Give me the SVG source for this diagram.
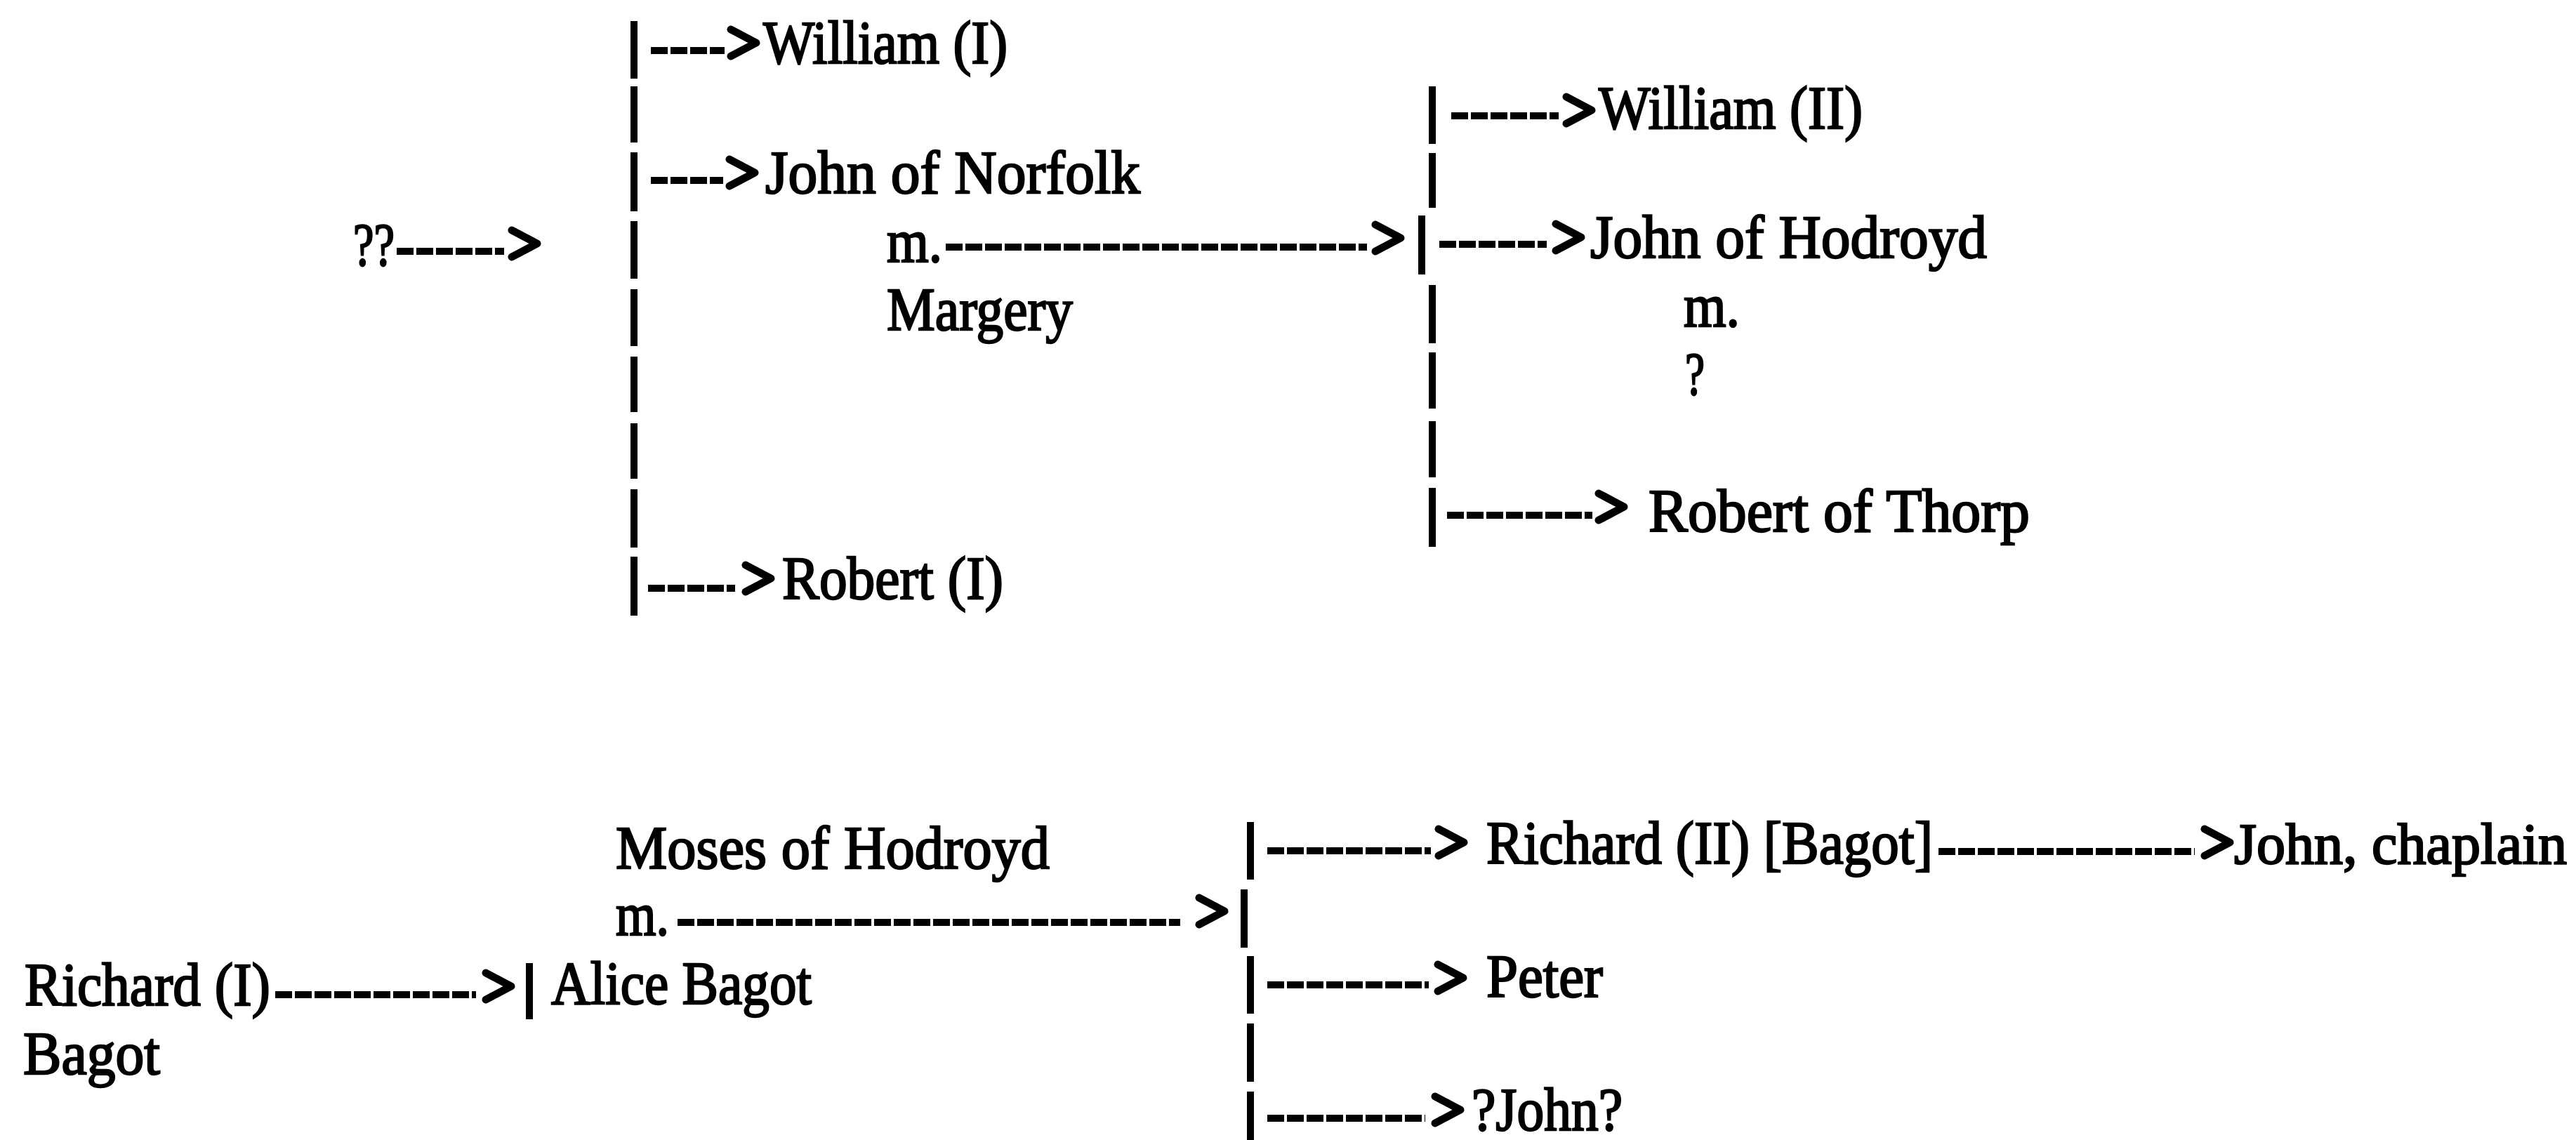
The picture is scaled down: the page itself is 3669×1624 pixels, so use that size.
<svg xmlns="http://www.w3.org/2000/svg" xmlns:xlink="http://www.w3.org/1999/xlink" width="3669" height="1624" viewBox="0 0 3669 1624">
<style>
.t{font-family:"Liberation Serif","Times New Roman",serif;font-size:86px;fill:#000;stroke:#000;stroke-width:2.4px}
.dash{stroke:#000;stroke-width:10;stroke-dasharray:24 4;fill:none}
.bar{stroke:#000;stroke-width:10;fill:none}
.chev{fill:none;stroke:#000;stroke-width:11;stroke-linejoin:round;stroke-linecap:round}
</style>
<defs>
<path id="chev" class="chev" d="M6,-19 L42,0 L6,19"/>
</defs>
<rect width="3669" height="1624" fill="#fff"/>
<g id="connectors">
<path class="bar" d="M903,30V112M903,123V203M903,217V301M903,315V397M903,412V493M903,508V587M903,603V682M903,697V780M903,793V877"/>
<path class="bar" d="M2040,123V205M2040,218V296M2025,307V391M2040,406V489M2040,502V582M2040,600V680M2040,695V779"/>
<path class="bar" d="M1781,1171V1253M1772,1267V1350M1781,1362V1444M1781,1458V1541M1781,1555V1624"/>
<path class="bar" d="M754,1372V1452"/>
<path class="dash" d="M565,358H718"/>
<path class="dash" d="M927,72H1032"/>
<path class="dash" d="M927,257H1030"/>
<path class="dash" d="M1347,352H1947"/>
<path class="dash" d="M923,838H1047"/>
<path class="dash" d="M2067,165H2220"/>
<path class="dash" d="M2050,348H2203"/>
<path class="dash" d="M2061,734H2268"/>
<path class="dash" d="M392,1417H678"/>
<path class="dash" d="M965,1314H1681"/>
<path class="dash" d="M1805,1212H2038"/>
<path class="dash" d="M1805,1403H2035"/>
<path class="dash" d="M1805,1593H2030"/>
<path class="dash" d="M2761,1213H3126"/>
<use xlink:href="#chev" href="#chev" x="723" y="347"/>
<use xlink:href="#chev" href="#chev" x="1035" y="61"/>
<use xlink:href="#chev" href="#chev" x="1033" y="246"/>
<use xlink:href="#chev" href="#chev" x="1953" y="339"/>
<use xlink:href="#chev" href="#chev" x="1056" y="824"/>
<use xlink:href="#chev" href="#chev" x="2225" y="157"/>
<use xlink:href="#chev" href="#chev" x="2210" y="338"/>
<use xlink:href="#chev" href="#chev" x="2271" y="722"/>
<use xlink:href="#chev" href="#chev" x="686" y="1405"/>
<use xlink:href="#chev" href="#chev" x="1702" y="1298"/>
<use xlink:href="#chev" href="#chev" x="2043" y="1200"/>
<use xlink:href="#chev" href="#chev" x="2042" y="1393"/>
<use xlink:href="#chev" href="#chev" x="2038" y="1581"/>
<use xlink:href="#chev" href="#chev" x="3134" y="1200"/>
</g>
<g id="unknown-parent"><text class="t" x="503" y="378" textLength="59" lengthAdjust="spacingAndGlyphs">??</text></g>
<g id="william-i"><text class="t" x="1087" y="90" textLength="348" lengthAdjust="spacingAndGlyphs">William (I)</text></g>
<g id="john-of-norfolk"><text class="t" x="1090" y="275" textLength="534" lengthAdjust="spacingAndGlyphs">John of Norfolk</text>
<text class="t" x="1263" y="373" textLength="79" lengthAdjust="spacingAndGlyphs">m.</text></g>
<g id="margery"><text class="t" x="1263" y="470" textLength="265" lengthAdjust="spacingAndGlyphs">Margery</text></g>
<g id="robert-i"><text class="t" x="1114" y="853" textLength="315" lengthAdjust="spacingAndGlyphs">Robert (I)</text></g>
<g id="william-ii"><text class="t" x="2277" y="183" textLength="376" lengthAdjust="spacingAndGlyphs">William (II)</text></g>
<g id="john-of-hodroyd"><text class="t" x="2265" y="367" textLength="565" lengthAdjust="spacingAndGlyphs">John of Hodroyd</text>
<text class="t" x="2398" y="465" textLength="80" lengthAdjust="spacingAndGlyphs">m.</text>
<text class="t" x="2400" y="562" textLength="28" lengthAdjust="spacingAndGlyphs">?</text></g>
<g id="robert-of-thorp"><text class="t" x="2348" y="757" textLength="543" lengthAdjust="spacingAndGlyphs">Robert of Thorp</text></g>
<g id="moses-of-hodroyd"><text class="t" x="877" y="1237" textLength="618" lengthAdjust="spacingAndGlyphs">Moses of Hodroyd</text>
<text class="t" x="877" y="1332" textLength="76" lengthAdjust="spacingAndGlyphs">m.</text></g>
<g id="richard-i-bagot"><text class="t" x="35" y="1432" textLength="350" lengthAdjust="spacingAndGlyphs">Richard (I)</text>
<text class="t" x="33" y="1530" textLength="195" lengthAdjust="spacingAndGlyphs">Bagot</text></g>
<g id="alice-bagot"><text class="t" x="785" y="1430" textLength="371" lengthAdjust="spacingAndGlyphs">Alice Bagot</text></g>
<g id="richard-ii-bagot"><text class="t" x="2117" y="1230" textLength="636" lengthAdjust="spacingAndGlyphs">Richard (II) [Bagot]</text></g>
<g id="john-chaplain"><text class="t" x="3182" y="1230" style="font-size:82px" textLength="474" lengthAdjust="spacingAndGlyphs">John, chaplain</text></g>
<g id="peter"><text class="t" x="2117" y="1420" textLength="166" lengthAdjust="spacingAndGlyphs">Peter</text></g>
<g id="john-query"><text class="t" x="2096" y="1610" textLength="215" lengthAdjust="spacingAndGlyphs">?John?</text></g>
</svg>
